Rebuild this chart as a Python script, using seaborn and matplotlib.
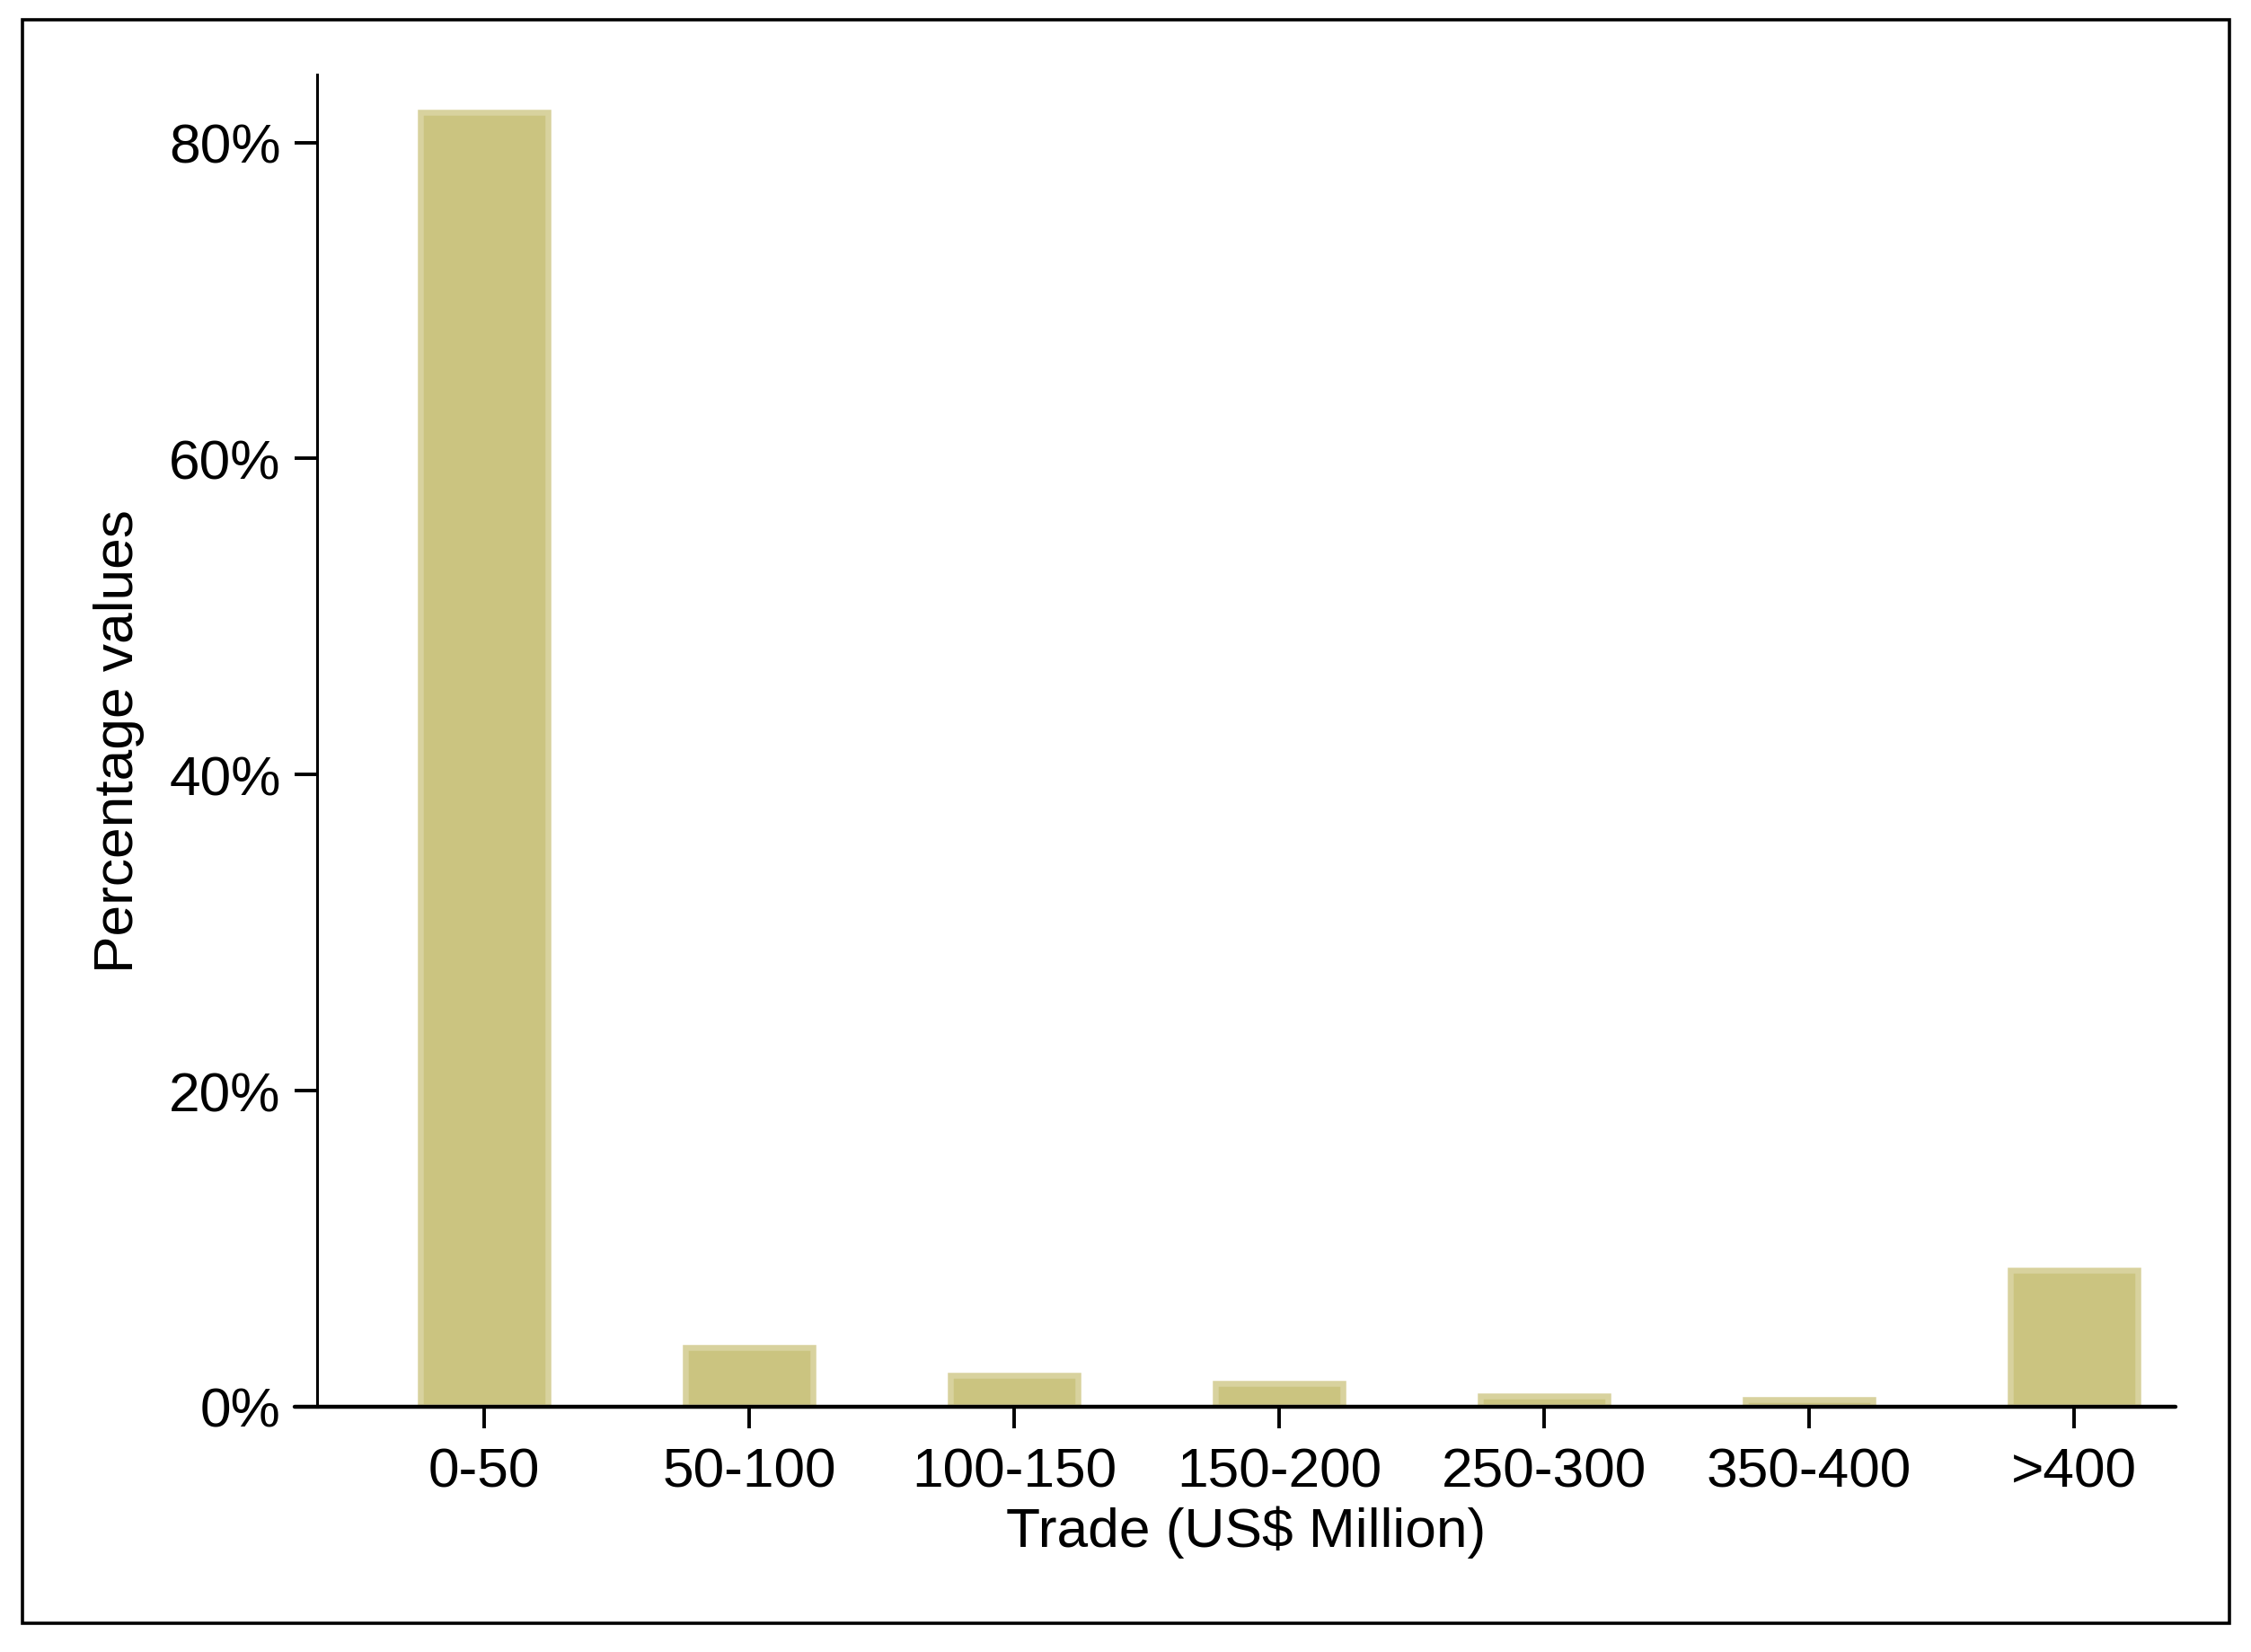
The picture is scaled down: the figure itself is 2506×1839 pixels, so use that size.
import matplotlib
matplotlib.use("Agg")
import matplotlib.pyplot as plt
from matplotlib.patches import Rectangle
from matplotlib.ticker import PercentFormatter
import seaborn as sns
import pandas as pd

# ---- data ----
categories = ["0-50", "50-100", "100-150", "150-200", "250-300", "350-400", ">400"]
percent_values = [81.9, 3.75, 2.0, 1.48, 0.68, 0.45, 8.64]
y_ticks = [0, 20, 40, 60, 80]
x_title = "Trade (US$ Million)"
y_title = "Percentage values"

df = pd.DataFrame({"trade": categories, "pct": percent_values})

sns.set_style("ticks")
plt.rcParams["font.family"] = ["Liberation Sans", "DejaVu Sans"]
plt.rcParams["text.color"] = "black"
plt.rcParams["axes.labelcolor"] = "black"
plt.rcParams["xtick.color"] = "black"
plt.rcParams["ytick.color"] = "black"

W, H, DPI = 2506, 1840, 200
fig = plt.figure(figsize=(W / DPI, H / DPI), dpi=DPI)
fig.patch.set_facecolor("white")

# axes placement (pixel measurements converted to figure fraction)
left, right = 353 / W, 2422 / W
bottom, top = 1 - 1567 / H, 1 - 84 / H
ax = fig.add_axes([left, bottom, right - left, top - bottom])

fill = "#CBC480"
edge = "#D8D29E"
sns.barplot(data=df, x="trade", y="pct", order=categories, color=fill,
            saturation=1, width=0.483, edgecolor=edge, linewidth=2.35,
            ax=ax, zorder=2)

ax.set_xlim(-0.6305, 6.383)
ax.set_ylim(0, 84.3)
ax.set_yticks(y_ticks)
ax.yaxis.set_major_formatter(PercentFormatter(decimals=0))

fs = 22.4
ax.tick_params(axis="y", direction="out", length=9, width=1.4, pad=5.5,
               labelsize=fs, colors="black")
ax.tick_params(axis="x", direction="out", length=8.6, width=1.4, pad=7.6,
               labelsize=fs, colors="black")

for s in ["top", "right", "bottom"]:
    ax.spines[s].set_visible(False)
ax.spines["left"].set_linewidth(1.1)
ax.spines["left"].set_color("black")

# x axis line extending slightly left of the y axis (Stata style)
xmin_ext = (-0.715 - (-0.6305)) / (6.383 + 0.6305)
ax.axhline(0, xmin=xmin_ext, xmax=1, color="black", lw=1.6, clip_on=False, zorder=5)

ax.set_xlabel(x_title, fontsize=fs, va="baseline", color="black")
ax.xaxis.set_label_coords(0.5, (1567 - 1722) / (1567 - 84))
ax.set_ylabel(y_title, fontsize=fs, va="baseline", color="black")
ax.yaxis.set_label_coords((148 - 353) / (2422 - 353), 0.5)

# outer frame
x0, x1 = 25 / W, 2482 / W
y0, y1 = 1 - 1808 / H, 1 - 23 / H
fig.patches.append(Rectangle((x0, y0), x1 - x0, y1 - y0, transform=fig.transFigure,
                             fill=False, edgecolor="black", lw=1.3))

fig.savefig("out.png", dpi=DPI)
